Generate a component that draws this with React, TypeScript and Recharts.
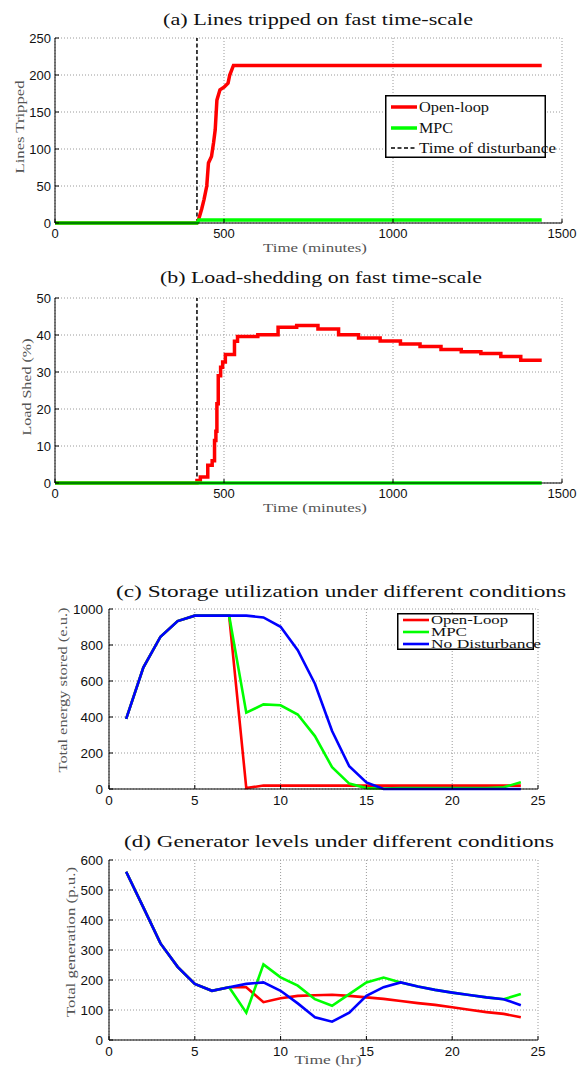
import React from 'react';
import { LineChart, Line, XAxis, YAxis, CartesianGrid, ReferenceLine, Legend } from 'recharts';

const RED = '#ff0000';
const GREEN = '#00ff00';
const BLUE = '#0000ff';
const SERIF = '"Liberation Serif", "DejaVu Serif", serif';
const SANS = '"Liberation Sans", Arial, sans-serif';

// (a) lines tripped, time in minutes
const tripTimes = [0, 420, 425, 434, 441, 449, 454, 463, 469, 474, 479, 488, 501, 512, 517, 528, 1440];
const tripOpenLoop = [0, 0, 5, 19, 32, 50, 81, 90, 108, 126, 166, 180, 184, 189, 200, 213, 213];
const tripMpcTimes = [0, 420, 425, 1440];
const tripMpc = [0, 0, 4, 4];
const disturbanceTime = 420;

// (b) load shed %, stepwise
const shedTimes = [0, 420, 430, 452, 465, 472, 476, 479, 483, 490, 496, 504, 531, 540, 600, 660, 715, 778, 839, 898, 962, 1022, 1080, 1142, 1202, 1260, 1319, 1378, 1440];
const shedOpenLoop = [0, 0.7, 1.6, 4.8, 6, 11.5, 14, 21.4, 29, 31.3, 32.7, 34.7, 38.3, 39.6, 40.1, 42.1, 42.6, 41.6, 40.1, 39.2, 38.4, 37.6, 36.9, 36.1, 35.5, 35.0, 34.2, 33.2, 33.2];
const shedMpcTimes = [0, 1440];
const shedMpc = [0, 0];

// (c) and (d), hourly
const hours = [1, 2, 3, 4, 5, 6, 7, 8, 9, 10, 11, 12, 13, 14, 15, 16, 17, 18, 19, 20, 21, 22, 23, 24];
const storeOpenLoop = [390, 675, 846, 933, 963, 963, 963, 5, 19, 19, 19, 19, 19, 19, 19, 19, 19, 19, 19, 19, 19, 19, 19, 19];
const storeMpc = [390, 675, 846, 933, 963, 963, 963, 424, 470, 465, 414, 294, 121, 30, 5, 3, 5, 5, 5, 5, 5, 5, 10, 37];
const storeNoDist = [390, 675, 846, 933, 963, 963, 963, 963, 953, 901, 771, 585, 322, 126, 37, 0, 0, 0, 0, 0, 0, 0, 0, 0];
const genOpenLoop = [561, 442, 322, 244, 187, 164, 176, 176, 126, 139, 147, 149, 151, 147, 142, 137, 130, 123, 117, 109, 101, 93, 87, 76];
const genMpc = [561, 442, 322, 244, 187, 164, 176, 91, 252, 209, 181, 136, 114, 153, 192, 208, 192, 178, 167, 158, 150, 142, 136, 153];
const genNoDist = [561, 442, 322, 244, 187, 164, 176, 187, 192, 164, 122, 76, 61, 91, 147, 176, 192, 178, 167, 158, 150, 142, 136, 116];

const minuteTicks = [0, 500, 1000, 1500];
const tripTicks = [0, 50, 100, 150, 200, 250];
const shedTicks = [0, 10, 20, 30, 40, 50];
const hourTicks = [0, 5, 10, 15, 20, 25];
const storeTicks = [0, 200, 400, 600, 800, 1000];
const genTicks = [0, 100, 200, 300, 400, 500, 600];

const pts = (xs: number[], ys: number[]) => xs.map((t, i) => ({ t, v: ys[i] }));
const hourly = (ys: number[]) => pts(hours, ys);

const xTick = (m: number, fs: number) => (p: any) => (
  <g>
    <line x1={p.x} x2={p.x} y1={p.y - m} y2={p.y - m - 4} stroke="#000" />
    <text x={p.x} y={p.y} dy="0.71em" textAnchor="middle" fontSize={fs} fontFamily={SANS} fill="#111">
      {p.payload.value}
    </text>
  </g>
);

const yTick = (m: number, fs: number) => (p: any) => (
  <g>
    <line x1={p.x + m} x2={p.x + m + 4} y1={p.y} y2={p.y} stroke="#000" />
    <text x={p.x} y={p.y} dy="0.36em" textAnchor="end" fontSize={fs} fontFamily={SANS} fill="#111">
      {p.payload.value}
    </text>
  </g>
);

const grid = <CartesianGrid stroke="#9a9a9a" strokeDasharray="1 2" />;

type Entry = { label: string; color: string; dash?: string; len: number };

const LegendBox = ({ w, h, entries, rows, fs, lw }: { w: number; h: number; entries: Entry[]; rows: number[]; fs: number; lw: number }) => (
  <svg width={w} height={h} style={{ overflow: 'visible', display: 'block' }}>
    <rect x={0.75} y={0.75} width={w - 1.5} height={h - 1.5} fill="#fff" stroke="#000" strokeWidth={1.5} />
    {entries.map((e, i) => (
      <g key={e.label}>
        <line x1={6} x2={32} y1={rows[i]} y2={rows[i]} stroke={e.color} strokeWidth={e.dash ? 1.5 : lw} strokeDasharray={e.dash} />
        <text x={34} y={rows[i] + fs * 0.33} fontSize={fs} fontFamily={SERIF} fill="#111" textLength={e.len} lengthAdjust="spacingAndGlyphs">
          {e.label}
        </text>
      </g>
    ))}
  </svg>
);

const legendA: Entry[] = [
  { label: 'Open-loop', color: RED, len: 70 },
  { label: 'MPC', color: GREEN, len: 34 },
  { label: 'Time of disturbance', color: '#000', dash: '4 2.5', len: 137 },
];
const legendC: Entry[] = [
  { label: 'Open-Loop', color: RED, len: 77 },
  { label: 'MPC', color: GREEN, len: 36 },
  { label: 'No Disturbance', color: BLUE, len: 110 },
];

const Txt = ({ x, y, len, size, children, rot, fill = '#111' }: any) => (
  <text
    x={x}
    y={y}
    fontSize={size}
    fontFamily={SERIF}
    fill={fill}
    textAnchor="middle"
    textLength={len}
    lengthAdjust="spacingAndGlyphs"
    transform={rot ? `rotate(-90 ${x} ${y})` : undefined}
  >
    {children}
  </text>
);

const abs = (top: number): React.CSSProperties => ({ position: 'absolute', left: 0, top });

export default function App() {
  return (
    <div style={{ position: 'absolute', left: 0, top: 0, width: 579, height: 1069, background: '#fff', overflow: 'hidden' }}>
      <div style={abs(0)}>
        <LineChart width={579} height={260} margin={{ top: 38, right: 17, bottom: 7, left: 0 }}>
          {grid}
          <XAxis type="number" dataKey="t" domain={[0, 1500]} ticks={minuteTicks} height={30} axisLine={{ stroke: '#000' }} tickLine={false} tickSize={0} tickMargin={6} tick={xTick(6, 13)} />
          <YAxis type="number" domain={[0, 250]} ticks={tripTicks} width={55} axisLine={{ stroke: '#000' }} tickLine={false} tickSize={0} tickMargin={4} tick={yTick(4, 13)} />
          <ReferenceLine x={disturbanceTime} stroke="#000" strokeWidth={1.5} strokeDasharray="4 2.5" />
          <Line data={pts(tripTimes, tripOpenLoop)} dataKey="v" stroke={RED} strokeWidth={3.5} dot={false} activeDot={false} isAnimationActive={false} />
          <Line data={pts(tripMpcTimes, tripMpc)} dataKey="v" stroke={GREEN} strokeWidth={3.5} dot={false} activeDot={false} isAnimationActive={false} />
          <Legend
            layout="horizontal"
            verticalAlign="middle"
            align="center"
            wrapperStyle={{ left: 385, top: 95, width: 161, height: 63 }}
            content={() => <LegendBox w={161} h={63} entries={legendA} rows={[12, 33, 53]} fs={14.5} lw={3.5} />}
          />
        </LineChart>
      </div>

      <div style={abs(260)}>
        <LineChart width={579} height={260} margin={{ top: 38, right: 17, bottom: 7, left: 0 }}>
          {grid}
          <XAxis type="number" dataKey="t" domain={[0, 1500]} ticks={minuteTicks} height={30} axisLine={{ stroke: '#000' }} tickLine={false} tickSize={0} tickMargin={6} tick={xTick(6, 13)} />
          <YAxis type="number" domain={[0, 50]} ticks={shedTicks} width={55} axisLine={{ stroke: '#000' }} tickLine={false} tickSize={0} tickMargin={4} tick={yTick(4, 13)} />
          <ReferenceLine x={disturbanceTime} stroke="#000" strokeWidth={1.5} strokeDasharray="4 2.5" />
          <Line type="stepAfter" data={pts(shedTimes, shedOpenLoop)} dataKey="v" stroke={RED} strokeWidth={3.5} dot={false} activeDot={false} isAnimationActive={false} />
          <Line data={pts(shedMpcTimes, shedMpc)} dataKey="v" stroke={GREEN} strokeWidth={3.5} dot={false} activeDot={false} isAnimationActive={false} />
        </LineChart>
      </div>

      <div style={abs(540)}>
        <LineChart width={579} height={280} margin={{ top: 69, right: 41, bottom: 6, left: 0 }}>
          {grid}
          <XAxis type="number" dataKey="t" domain={[0, 25]} ticks={hourTicks} height={25} axisLine={{ stroke: '#000' }} tickLine={false} tickSize={0} tickMargin={6} tick={xTick(6, 13.5)} />
          <YAxis type="number" domain={[0, 1000]} ticks={storeTicks} width={109} axisLine={{ stroke: '#000' }} tickLine={false} tickSize={0} tickMargin={6} tick={yTick(6, 13.5)} />
          <Line data={hourly(storeOpenLoop)} dataKey="v" stroke={RED} strokeWidth={2.6} dot={false} activeDot={false} isAnimationActive={false} />
          <Line data={hourly(storeMpc)} dataKey="v" stroke={GREEN} strokeWidth={2.6} dot={false} activeDot={false} isAnimationActive={false} />
          <Line data={hourly(storeNoDist)} dataKey="v" stroke={BLUE} strokeWidth={2.6} dot={false} activeDot={false} isAnimationActive={false} />
          <Legend
            layout="horizontal"
            verticalAlign="middle"
            align="center"
            wrapperStyle={{ left: 397, top: 73, width: 137, height: 37 }}
            content={() => <LegendBox w={137} h={37} entries={legendC} rows={[7, 19, 31]} fs={12} lw={2.6} />}
          />
        </LineChart>
      </div>

      <div style={abs(820)}>
        <LineChart width={579} height={249} margin={{ top: 40, right: 41, bottom: 4, left: 0 }}>
          {grid}
          <XAxis type="number" dataKey="t" domain={[0, 25]} ticks={hourTicks} height={25} axisLine={{ stroke: '#000' }} tickLine={false} tickSize={0} tickMargin={6} tick={xTick(6, 13.5)} />
          <YAxis type="number" domain={[0, 600]} ticks={genTicks} width={109} axisLine={{ stroke: '#000' }} tickLine={false} tickSize={0} tickMargin={6} tick={yTick(6, 13.5)} />
          <Line data={hourly(genOpenLoop)} dataKey="v" stroke={RED} strokeWidth={2.6} dot={false} activeDot={false} isAnimationActive={false} />
          <Line data={hourly(genMpc)} dataKey="v" stroke={GREEN} strokeWidth={2.6} dot={false} activeDot={false} isAnimationActive={false} />
          <Line data={hourly(genNoDist)} dataKey="v" stroke={BLUE} strokeWidth={2.6} dot={false} activeDot={false} isAnimationActive={false} />
        </LineChart>
      </div>

      <svg width={579} height={1069} style={{ position: 'absolute', left: 0, top: 0, pointerEvents: 'none' }}>
        <Txt x={318} y={25} len={310} size={17}>(a) Lines tripped on fast time-scale</Txt>
        <Txt x={321} y={283} len={322} size={17}>(b) Load-shedding on fast time-scale</Txt>
        <Txt x={341} y={597} len={450} size={17}>(c) Storage utilization under different conditions</Txt>
        <Txt x={339} y={847} len={430} size={17}>(d) Generator levels under different conditions</Txt>

        <Txt x={315} y={252} len={104} size={13.5} fill="#555">Time (minutes)</Txt>
        <Txt x={315} y={512} len={104} size={13.5} fill="#555">Time (minutes)</Txt>
        <Txt x={328} y={1064} len={67} size={12.5} fill="#555">Time (hr)</Txt>

        <Txt x={24} y={127} len={93} size={13.5} fill="#555" rot>Lines Tripped</Txt>
        <Txt x={31} y={387} len={97} size={13.5} fill="#555" rot>Load Shed (%)</Txt>
        <Txt x={67} y={690} len={165} size={13.5} fill="#555" rot>Total energy stored (e.u.)</Txt>
        <Txt x={75} y={942} len={150} size={13.5} fill="#555" rot>Total generation (p.u.)</Txt>
      </svg>
    </div>
  );
}
